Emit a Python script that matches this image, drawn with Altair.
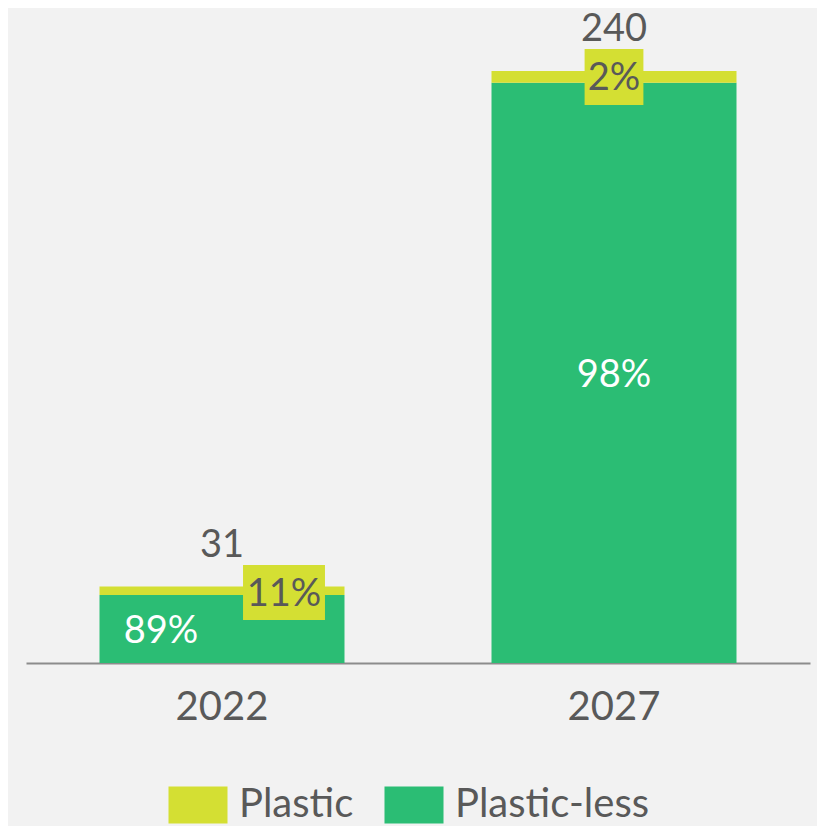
import altair as alt
import pandas as pd

years = ["2022", "2027"]
totals = [31, 240]
plastic_pct = [11, 2]
plasticless_pct = [89, 98]
series = ["Plastic", "Plastic-less"]
colors = ["#d4df33", "#2bbd74"]

FONT = "Lato"
GREY = "#595959"

rows = []
for yr, t, p, q in zip(years, totals, plastic_pct, plasticless_pct):
    less = t * q / 100
    rows.append(dict(year=yr, series="Plastic-less", start=0, end=less, mid=less / 2, pct=f"{q}%"))
    rows.append(dict(year=yr, series="Plastic", start=less, end=t, mid=(less + t) / 2, pct=f"{p}%"))
df = pd.DataFrame(rows)
tot = pd.DataFrame(dict(year=years, total=totals, label=[str(t) for t in totals],
                        plabel=[f"{p}%" for p in plastic_pct]))

xenc = alt.X("year:N", scale=alt.Scale(paddingInner=0.375, paddingOuter=0.1875),
             axis=alt.Axis(title=None, labelAngle=0, labelFontSize=40, labelColor=GREY,
                           labelFont=FONT, labelPadding=24, ticks=False,
                           domainColor="#8c8c8c", domainWidth=2))
yscale = alt.Scale(domain=[0, 240], nice=False, zero=True)

bars = alt.Chart(df).mark_bar().encode(
    x=xenc,
    y=alt.Y("start:Q", scale=yscale, axis=None),
    y2="end:Q",
    color=alt.Color("series:N", scale=alt.Scale(domain=series, range=colors),
                    legend=alt.Legend(title=None, orient="none", legendX=152, legendY=714,
                                      direction="horizontal",
                                      symbolType="M-1.595,-1L1.595,-1L1.595,1L-1.595,1Z",
                                      symbolSize=1369, symbolStrokeWidth=0, symbolOpacity=1,
                                      labelFontSize=40, labelColor=GREY, labelFont=FONT,
                                      labelOffset=21, columnPadding=30, padding=0,
                                      labelLimit=400)),
)

less_df = df[df.series == "Plastic-less"]
layers = [bars]
# per-year offsets (pixels) for the labels
less_dx = {"2022": -61, "2027": 0}
box_dx = {"2022": 62, "2027": 0}
box_shape = {"2022": ("M-1.49,-1L1.49,-1L1.49,1L-1.49,1Z", 3025),
             "2027": ("M-1.05,-1L1.05,-1L1.05,1L-1.05,1Z", 3136)}

for yr in years:
    layers.append(
        alt.Chart(less_df[less_df.year == yr]).mark_text(
            color="white", fontSize=38, font=FONT, baseline="middle", dx=less_dx[yr], dy=3
        ).encode(x="year:N", y=alt.Y("mid:Q", scale=yscale), text="pct:N")
    )
    shp, sz = box_shape[yr]
    layers.append(
        alt.Chart(tot[tot.year == yr]).mark_point(
            shape=shp, size=sz, filled=True, opacity=1, color=colors[0],
            xOffset=box_dx[yr], yOffset=6
        ).encode(x="year:N", y=alt.Y("total:Q", scale=yscale))
    )
    layers.append(
        alt.Chart(tot[tot.year == yr]).mark_text(
            color=GREY, fontSize=38, font=FONT, baseline="middle", dx=box_dx[yr], dy=8
        ).encode(x="year:N", y=alt.Y("total:Q", scale=yscale), text="plabel:N")
    )

layers.append(
    alt.Chart(tot).mark_text(color=GREY, fontSize=38, font=FONT, baseline="middle",
                             dy=-41).encode(
        x="year:N", y=alt.Y("total:Q", scale=yscale), text="label:N")
)

chart = alt.layer(*layers).properties(
    width=784, height=592,
    autosize=alt.AutoSizeParams(type="none"),
    padding={"left": 18, "top": 63, "right": 7, "bottom": 163},
    background="#f2f2f2",
).configure_view(stroke=None)

chart.save("out.html", embed_options={"renderer": "svg", "actions": False})
